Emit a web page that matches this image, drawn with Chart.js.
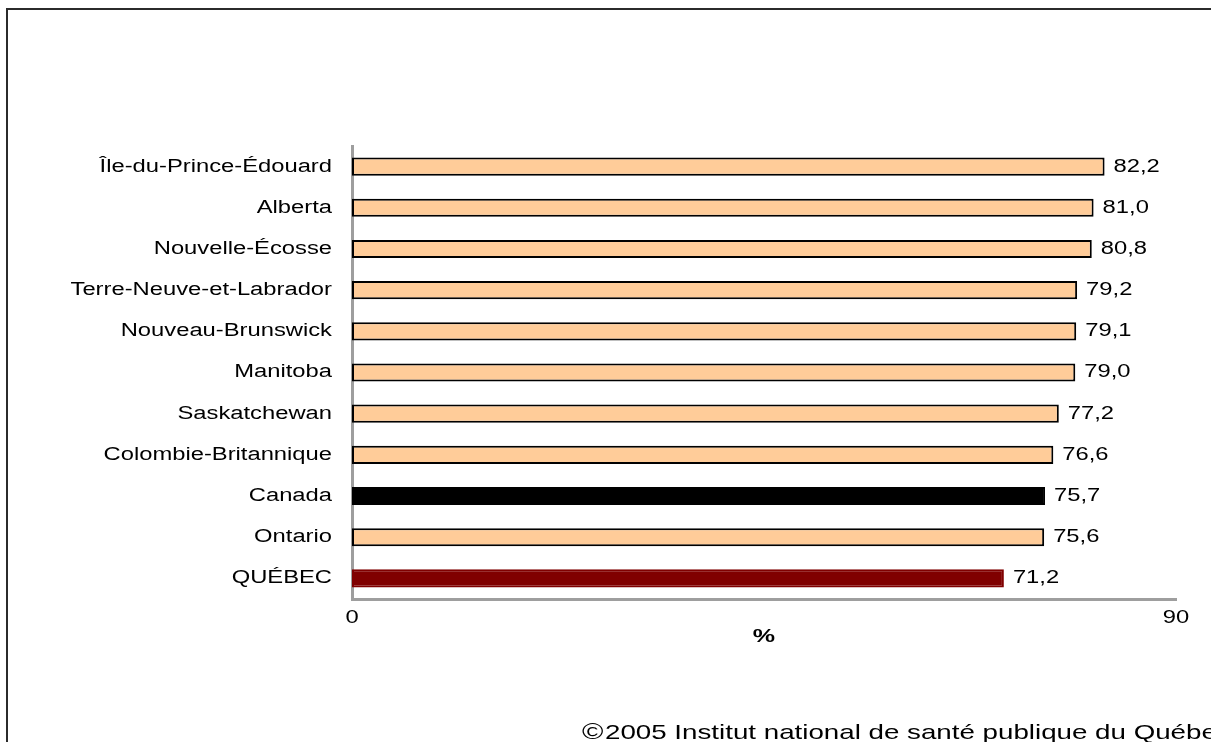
<!DOCTYPE html>
<html>
<head>
<meta charset="utf-8">
<script src="https://cdn.jsdelivr.net/npm/chart.js@4/dist/chart.umd.min.js"></script>
<style>
html,body{margin:0;padding:0;background:#fff;}
canvas{display:block;}
</style>
</head>
<body>
<canvas id="c" width="1211" height="742"></canvas>
<script>
const categories = ["Île-du-Prince-Édouard","Alberta","Nouvelle-Écosse","Terre-Neuve-et-Labrador","Nouveau-Brunswick","Manitoba","Saskatchewan","Colombie-Britannique","Canada","Ontario","QUÉBEC"];
const values = [82.2,81.0,80.8,79.2,79.1,79.0,77.2,76.6,75.7,75.6,71.2];
const xTicks = [0,90];
const axisTitle = "%";
const footerMark = "©";
const footer = "2005 Institut national de santé publique du Québec";

const fillColors = categories.map(c => c === "Canada" ? "#000000" : (c === "QUÉBEC" ? "#800000" : "#FFCC99"));
const borderColors = categories.map(c => c === "QUÉBEC" ? "#800000" : "#000000");

const FONT = "'Liberation Sans', Arial, sans-serif";
const STRETCH = 1.32;

function stretchText(ctx) {
  if (ctx._origFillText) return;
  ctx._origFillText = ctx.fillText;
  ctx.fillText = function (t, x, y) {
    this.save();
    this.translate(x, y);
    this.scale(STRETCH, 1);
    this._origFillText.call(this, t, 0, 0);
    this.restore();
  };
}

const decor = {
  id: "decor",
  beforeDraw(chart) {
    const ctx = chart.ctx;
    stretchText(ctx);
    ctx.save();
    ctx.fillStyle = "#fff";
    ctx.fillRect(0, 0, chart.width, chart.height);
    ctx.strokeStyle = "#2b2b2b";
    ctx.lineWidth = 2;
    ctx.beginPath();
    ctx.moveTo(7, 742);
    ctx.lineTo(7, 9);
    ctx.lineTo(1211, 9);
    ctx.stroke();
    ctx.restore();
  },
  afterDatasetsDraw(chart) {
    const ctx = chart.ctx;
    const meta = chart.getDatasetMeta(0);
    ctx.save();
    ctx.font = "18px " + FONT;
    ctx.fillStyle = "#000";
    ctx.textAlign = "left";
    ctx.textBaseline = "middle";
    meta.data.forEach((el, i) => {
      ctx.fillText(values[i].toFixed(1).replace(".", ","), el.x + 9, el.y);
    });
    ctx.restore();
  },
  afterDraw(chart) {
    const ctx = chart.ctx;
    ctx.save();
    ctx.fillStyle = "#000";
    ctx.textAlign = "left";
    ctx.textBaseline = "alphabetic";
    ctx.font = "22px " + FONT;
    ctx.fillText(footerMark, 582, 739);
    ctx.font = "21px " + FONT;
    ctx.fillText(footer, 605, 739);
    ctx.restore();
  }
};

new Chart(document.getElementById("c"), {
  type: "bar",
  data: {
    labels: categories,
    datasets: [{
      data: values,
      backgroundColor: fillColors,
      borderColor: borderColors,
      borderWidth: 2,
      borderSkipped: false,
      categoryPercentage: 1,
      barPercentage: 0.44
    }]
  },
  options: {
    indexAxis: "y",
    responsive: false,
    animation: false,
    layout: { padding: { left: 0, top: 146, right: 35, bottom: 83 } },
    plugins: { legend: { display: false }, tooltip: { enabled: false } },
    scales: {
      x: {
        min: xTicks[0],
        max: xTicks[1],
        afterBuildTicks(scale) { scale.ticks = xTicks.map(v => ({ value: v })); },
        afterFit(scale) { scale.height = 60; },
        grid: { display: false, drawTicks: false },
        border: { display: true, color: "#9e9e9e", width: 3 },
        ticks: { color: "#000", font: { family: FONT, size: 18 }, padding: 8, maxRotation: 0 },
        title: { display: true, text: axisTitle, color: "#000", font: { family: FONT, size: 19, weight: "bold" }, padding: { top: 0, bottom: 11 } }
      },
      y: {
        afterFit(scale) { scale.width = 352; },
        grid: { display: false, drawTicks: false },
        border: { display: true, color: "#9e9e9e", width: 3 },
        ticks: { color: "#000", font: { family: FONT, size: 18 }, padding: 20, autoSkip: false }
      }
    }
  },
  plugins: [decor]
});
</script>
</body>
</html>
